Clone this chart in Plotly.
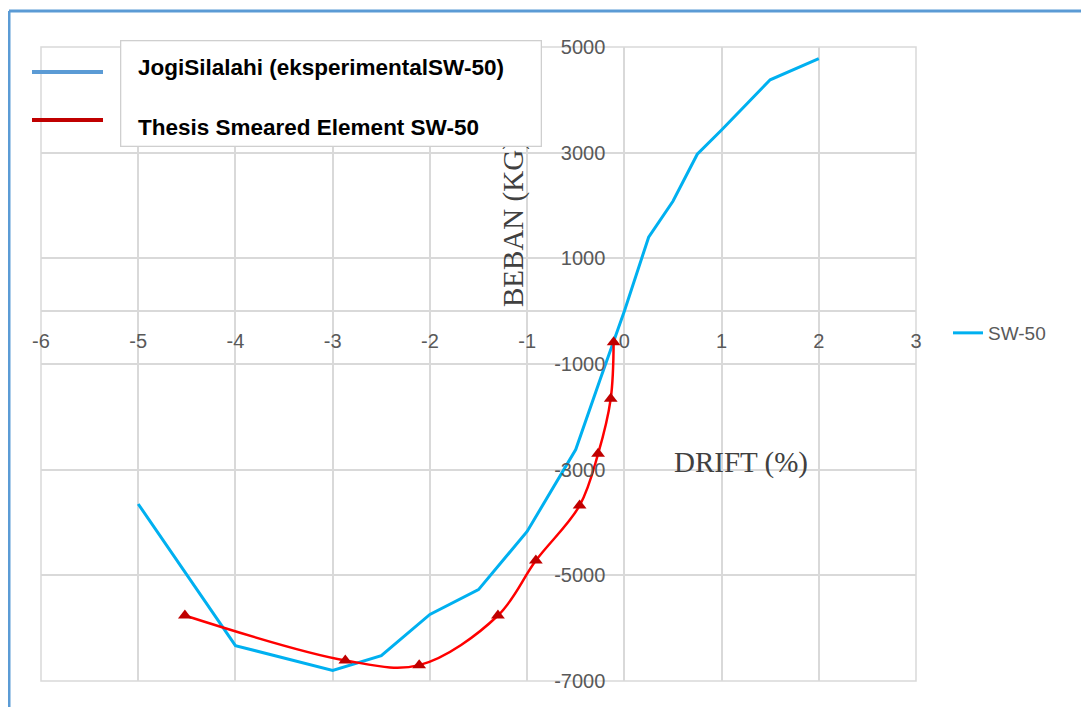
import plotly.graph_objects as go

# ---- data ----
drift_exp = [-5, -4, -3, -2.5, -2, -1.5, -1, -0.5, -0.25, 0, 0.25, 0.5, 0.75, 1, 1.5, 2]
load_exp = [-3650, -6330, -6800, -6520, -5740, -5270, -4170, -2620, -1300, 0, 1400, 2080, 2970, 3430, 4380, 4780]

drift_sim = [-4.52, -2.87, -2.11, -1.30, -0.91, -0.46, -0.27, -0.14, -0.11]
load_sim = [-5760, -6610, -6700, -5760, -4720, -3680, -2700, -1660, -590]

x_ticks = [-6, -5, -4, -3, -2, -1, 0, 1, 2, 3]
y_ticks = [-7000, -5000, -3000, -1000, 1000, 3000, 5000]
x_ticklabels = ["-6", "-5", "-4", "-3", "-2", "-1", "0", "1", "2", "3"]
y_ticklabels = ["-7000", "-5000", "-3000", "-1000", "1000", "3000", "5000"]

legend_exp = "JogiSilalahi (eksperimentalSW-50)"
legend_sim = "Thesis Smeared Element SW-50"
series_name = "SW-50"
y_title = "BEBAN (KG)"
x_title = "DRIFT (%)"

W, H = 1089, 707
OFF = 8  # page body margin
L, R, T, B = 41, 916, 47, 681  # plot area in window pixels


def px(x):
    return (x - L) / (R - L)


def py(y):
    return 1 - (y - T) / (B - T)


fig = go.Figure()
fig.add_trace(go.Scatter(
    x=drift_exp, y=load_exp, mode="lines", name=series_name,
    line=dict(color="#00b0f0", width=3),
))
fig.add_trace(go.Scatter(
    x=drift_sim, y=load_sim, mode="lines+markers", name=legend_sim,
    line=dict(color="#ff0000", width=2.5, shape="spline", smoothing=1),
    marker=dict(symbol="triangle-up", size=12, color="#c00000"),
    showlegend=False,
))

grid = "#d9d9d9"
tickfont = dict(family="Liberation Sans", size=20, color="#595959")

fig.update_layout(
    width=W - OFF, height=H - OFF, autosize=False,
    margin=dict(l=L - OFF, r=W - R, t=T - OFF, b=H - B, pad=0),
    paper_bgcolor="white", plot_bgcolor="white",
    xaxis=dict(
        range=[-6, 3], tickvals=x_ticks, ticktext=x_ticklabels, showgrid=True,
        gridcolor=grid, gridwidth=1.5,
        zeroline=False, showline=False, anchor="free", position=7 / 12,
        ticks="", ticklabelstandoff=16, tickfont=tickfont,
    ),
    yaxis=dict(
        range=[-7000, 5000], tickvals=y_ticks, ticktext=y_ticklabels, showgrid=True,
        gridcolor=grid, gridwidth=1.5,
        zeroline=True, zerolinecolor=grid, zerolinewidth=1.5, showline=False,
        anchor="free", position=6 / 9, ticks="", ticklabelstandoff=19, tickfont=tickfont,
    ),
    showlegend=True,
    legend=dict(
        x=px(948), y=py(333), xanchor="left", yanchor="middle",
        bgcolor="rgba(0,0,0,0)", font=dict(family="Liberation Sans", size=19, color="#595959"),
    ),
)

annotations = [
    dict(text=y_title, textangle=-90, x=px(513), y=py(224), xref="paper", yref="paper",
         xanchor="center", yanchor="middle", showarrow=False,
         font=dict(family="Liberation Serif", size=29, color="#404040")),
    dict(text=x_title, x=px(741), y=py(462), xref="paper", yref="paper",
         xanchor="center", yanchor="middle", showarrow=False,
         font=dict(family="Liberation Serif", size=29, color="#404040")),
    dict(text="&nbsp;", x=px(120), y=py(40), xref="paper", yref="paper",
         xanchor="left", yanchor="top", showarrow=False, width=419, height=104,
         bgcolor="white", bordercolor="#cfcfcf", borderwidth=1.3, borderpad=0),
    dict(text="<b>" + legend_exp + "</b>", x=px(136), y=py(67), xref="paper", yref="paper",
         xanchor="left", yanchor="middle", showarrow=False,
         font=dict(family="Liberation Sans", size=22.5, color="black")),
    dict(text="<b>" + legend_sim + "</b>", x=px(136), y=py(128), xref="paper", yref="paper",
         xanchor="left", yanchor="middle", showarrow=False,
         font=dict(family="Liberation Sans", size=22.5, color="black")),
]
fig.update_layout(annotations=annotations)

shapes = [
    # outer gridlines at the edges of the plotting area
    dict(type="rect", xref="paper", yref="paper", x0=0, x1=1, y0=0, y1=1,
         line=dict(color=grid, width=1.5), layer="below"),
    dict(type="line", xref="paper", yref="paper", x0=px(32), x1=px(103), y0=py(72), y1=py(72),
         line=dict(color="#5b9bd5", width=4), layer="above"),
    dict(type="line", xref="paper", yref="paper", x0=px(32), x1=px(103), y0=py(120), y1=py(120),
         line=dict(color="#c00000", width=4), layer="above"),
    dict(type="line", xref="paper", yref="paper", x0=px(9), x1=px(1095), y0=py(11), y1=py(11),
         line=dict(color="#5b9bd5", width=3), layer="above"),
    dict(type="line", xref="paper", yref="paper", x0=px(9), x1=px(9), y0=py(11), y1=py(715),
         line=dict(color="#5b9bd5", width=3), layer="above"),
]
fig.update_layout(shapes=shapes)

fig.write_html("out.html")
